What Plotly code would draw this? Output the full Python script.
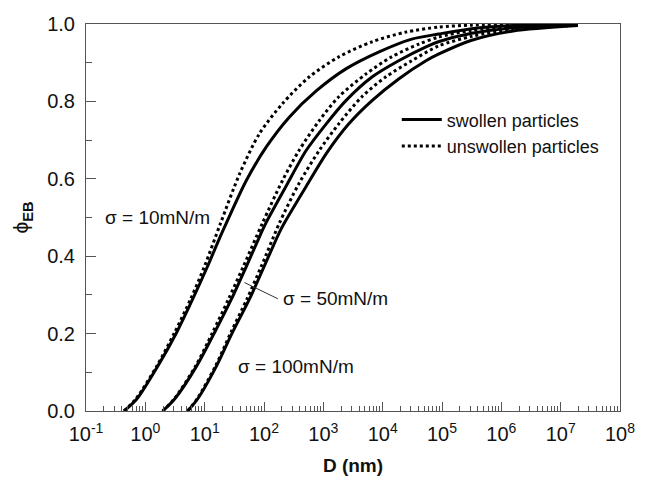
import plotly.graph_objects as go

# ---- data (D in nm, phi_EB) ----
# sigma = 10 mN/m
D_s10 = [0.437, 0.718, 1.62, 3.37, 6.27, 11.2, 18.2, 23.4, 50.1, 110, 269, 759, 2400, 8710, 30900, 87100, 316000, 1.58e6, 1.95e7]
phi_s10 = [0.0, 0.031, 0.116, 0.203, 0.289, 0.374, 0.450, 0.487, 0.595, 0.683, 0.760, 0.827, 0.884, 0.928, 0.961, 0.974, 0.988, 0.996, 0.999]

D_u10 = [0.437, 0.69, 1.56, 3.12, 5.79, 9.95, 18.5, 38.9, 83.2, 204, 575, 1820, 6610, 24500, 87100, 316000, 2.0e6, 1.95e7]
phi_u10 = [0.0, 0.031, 0.116, 0.203, 0.289, 0.374, 0.485, 0.613, 0.716, 0.794, 0.863, 0.915, 0.954, 0.979, 0.992, 0.997, 0.999, 0.9995]

# sigma = 50 mN/m
D_s50 = [1.96, 3.12, 7.31, 14.7, 28.2, 50.5, 90.2, 107, 234, 513, 1120, 2400, 6610, 18600, 53700, 87100, 316000, 1.58e6, 1.95e7]
phi_s50 = [0.0, 0.031, 0.116, 0.203, 0.289, 0.374, 0.461, 0.485, 0.580, 0.673, 0.742, 0.802, 0.863, 0.905, 0.941, 0.954, 0.976, 0.990, 0.998]

D_u50 = [1.96, 3.06, 7.03, 13.6, 25.2, 45.0, 93.8, 204, 389, 851, 1820, 5250, 14100, 40700, 87100, 316000, 1.58e6, 1.95e7]
phi_u50 = [0.0, 0.031, 0.116, 0.203, 0.289, 0.374, 0.485, 0.595, 0.673, 0.750, 0.812, 0.871, 0.915, 0.948, 0.966, 0.984, 0.994, 0.999]

# sigma = 100 mN/m
D_s100 = [5.16, 7.59, 15.8, 29.4, 56.8, 101, 181, 219, 513, 1120, 2690, 6610, 18600, 53700, 87100, 316000, 1.58e6, 1.95e7]
phi_s100 = [0.0, 0.031, 0.116, 0.203, 0.289, 0.374, 0.461, 0.485, 0.580, 0.665, 0.742, 0.802, 0.858, 0.905, 0.922, 0.958, 0.982, 0.996]

D_u100 = [5.16, 7.45, 15.2, 27.7, 51.5, 90.2, 181, 389, 851, 1820, 4470, 11200, 30900, 87100, 316000, 1.58e6, 1.95e7]
phi_u100 = [0.0, 0.031, 0.116, 0.203, 0.289, 0.374, 0.485, 0.588, 0.673, 0.742, 0.812, 0.863, 0.905, 0.943, 0.968, 0.986, 0.997]

x_tickvals = [1e-1, 1e0, 1e1, 1e2, 1e3, 1e4, 1e5, 1e6, 1e7, 1e8]
x_ticktext = ["10<sup>-1</sup>", "10<sup>0</sup>", "10<sup>1</sup>", "10<sup>2</sup>", "10<sup>3</sup>",
              "10<sup>4</sup>", "10<sup>5</sup>", "10<sup>6</sup>", "10<sup>7</sup>", "10<sup>8</sup>"]
y_tickvals = [0.0, 0.2, 0.4, 0.6, 0.8, 1.0]

FONT = "Arial, Liberation Sans, sans-serif"

fig = go.Figure()

def add(xs, ys, dash, name, show):
    fig.add_trace(go.Scatter(
        x=xs, y=ys, mode="lines", name=name, showlegend=show,
        line=dict(color="black", width=3, dash=dash, shape="spline", smoothing=0.8),
        hoverinfo="skip"))

add(D_s10, phi_s10, "solid", "swollen particles", True)
add(D_u10, phi_u10, "dot", "unswollen particles", True)
add(D_s50, phi_s50, "solid", "swollen particles", False)
add(D_u50, phi_u50, "dot", "unswollen particles", False)
add(D_s100, phi_s100, "solid", "swollen particles", False)
add(D_u100, phi_u100, "dot", "unswollen particles", False)

minor_vals = [k * 10.0 ** e for e in range(-1, 8) for k in range(2, 10)]

fig.update_xaxes(
    type="log", range=[-1, 8],
    tickmode="array", tickvals=x_tickvals, ticktext=x_ticktext,
    ticks="inside", ticklen=9, tickwidth=1, tickcolor="#555",
    minor=dict(tickmode="array", tickvals=minor_vals, ticks="inside", ticklen=5, tickcolor="#555", showgrid=False),
    showline=True, linecolor="#555", linewidth=1, mirror=True,
    showgrid=False, zeroline=False,
    ticklabelstandoff=5,
    tickfont=dict(family=FONT, size=20, color="#111"),
    title=dict(text="<b>D (nm)</b>", font=dict(family=FONT, size=19, color="#111"), standoff=14),
)
fig.update_yaxes(
    range=[0, 1],
    tickmode="array", tickvals=y_tickvals, tickformat=".1f",
    ticks="inside", ticklen=10, tickwidth=1, tickcolor="#555",
    minor=dict(dtick=0.1, ticks="inside", ticklen=6, tickcolor="#555", showgrid=False),
    showline=True, linecolor="#555", linewidth=1, mirror=True,
    showgrid=False, zeroline=False,
    ticklabelstandoff=6,
    tickfont=dict(family=FONT, size=20, color="#111"),
    title=dict(text="ϕ<sub><b>EB</b></sub>", font=dict(family=FONT, size=21, color="#111"), standoff=12),
)

ann_font = dict(family=FONT, size=19, color="#111")
fig.add_annotation(x=-0.72, y=0.5, xref="x", yref="y", text="σ = 10mN/m", showarrow=False,
                   xanchor="left", yanchor="middle", font=ann_font)
fig.add_annotation(x=2.28, y=0.29, xref="x", yref="y", text="σ = 50mN/m", showarrow=False,
                   xanchor="left", yanchor="middle", font=ann_font)
fig.add_annotation(x=1.52, y=0.116, xref="x", yref="y", text="σ = 100mN/m", showarrow=False,
                   xanchor="left", yanchor="middle", font=ann_font)
# pointer line for sigma = 50
fig.add_annotation(x=1.67, y=0.332, xref="x", yref="y", text="", showarrow=True,
                   arrowhead=0, arrowwidth=1, arrowcolor="#333", ax=35, ay=17, standoff=0)

fig.update_layout(
    width=647, height=484,
    margin=dict(l=86, r=25, t=24, b=72),
    paper_bgcolor="white", plot_bgcolor="white",
    font=dict(family=FONT, color="#111"),
    legend=dict(x=0.582, y=0.8, xanchor="left", yanchor="top",
                bgcolor="rgba(0,0,0,0)", font=dict(family=FONT, size=18, color="#111"),
                tracegroupgap=0, itemwidth=40),
)

fig.write_html("out.html")
